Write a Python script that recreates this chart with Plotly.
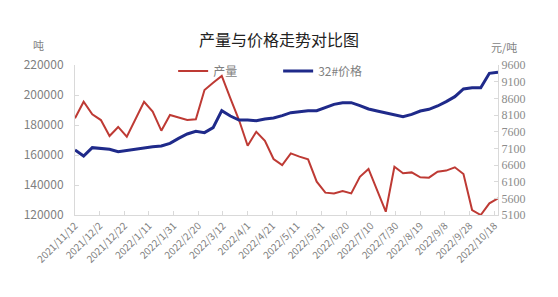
import pandas as pd
import plotly.graph_objects as go

dates = pd.date_range("2021-11-12", periods=50, freq="7D")

production = [184500, 195500, 187100, 183300, 172700, 178700, 172200, 183800, 195500, 188900,
              176200, 186700, 185100, 183300, 183800, 203300, 208200, 212700, 197800, 183300,
              166200, 175500, 169500, 157300, 153300, 161100, 158900, 157100, 142200, 134900,
              134400, 136000, 134400, 145500, 150700, 136700, 122200, 152200, 147800, 148400,
              145100, 144900, 148900, 149600, 151800, 147300, 123300, 120000, 127800, 131100]

price = [7050, 6870, 7120, 7100, 7070, 7000, 7040, 7070, 7110, 7150,
         7170, 7250, 7400, 7530, 7610, 7570, 7720, 8230, 8070, 7950,
         7950, 7930, 7980, 8010, 8080, 8170, 8200, 8230, 8230, 8320,
         8420, 8470, 8470, 8380, 8280, 8220, 8160, 8100, 8050, 8120,
         8220, 8270, 8370, 8500, 8650, 8880, 8920, 8920, 9350, 9380]

tick_dates = ["2021-11-12", "2021-12-02", "2021-12-22", "2022-01-11", "2022-01-31",
              "2022-02-20", "2022-03-12", "2022-04-01", "2022-04-21", "2022-05-11",
              "2022-05-31", "2022-06-20", "2022-07-10", "2022-07-30", "2022-08-19",
              "2022-09-08", "2022-09-28", "2022-10-18"]
tick_labels = ["2021/11/12", "2021/12/2", "2021/12/22", "2022/1/11", "2022/1/31",
               "2022/2/20", "2022/3/12", "2022/4/1", "2022/4/21", "2022/5/11",
               "2022/5/31", "2022/6/20", "2022/7/10", "2022/7/30", "2022/8/19",
               "2022/9/8", "2022/9/28", "2022/10/18"]

RED = "#BE3A34"
BLUE = "#1F2A8A"
GRAY = "#7F7F7F"
AXIS = "#D9D9D9"
CJK = "Noto Sans CJK SC"

fig = go.Figure()
fig.add_trace(go.Scatter(x=dates, y=production, name="产量", mode="lines",
                         line=dict(color=RED, width=2), yaxis="y"))
fig.add_trace(go.Scatter(x=dates, y=price, name="32#价格", mode="lines",
                         line=dict(color=BLUE, width=3), yaxis="y2"))

fig.update_layout(
    width=558, height=297,
    margin=dict(l=75, r=60, t=65, b=82),
    paper_bgcolor="white", plot_bgcolor="white",
    font=dict(family=CJK, color=GRAY, size=12),
    title=dict(text="产量与价格走势对比图", x=0.5, xanchor="center",
               y=1 - 40 / 297, yanchor="middle",
               font=dict(family=CJK, size=16, color="#222222")),
    showlegend=True,
    legend=dict(orientation="h", x=0.232, y=0.96, xanchor="left", yanchor="middle",
                font=dict(family=CJK, size=12, color=GRAY),
                entrywidth=60, bgcolor="rgba(0,0,0,0)", itemwidth=30),
    xaxis=dict(type="date",
               range=[dates[0], dates[-1]],
               tickvals=tick_dates, ticktext=tick_labels,
               tickangle=-45, tickfont=dict(family=CJK, size=10, color=GRAY),
               showgrid=False, zeroline=False,
               showline=True, linecolor=AXIS, linewidth=1,
               ticks="inside", ticklen=4, tickcolor=AXIS),
    yaxis=dict(range=[120000, 220000], dtick=20000, tick0=120000, tickformat="d",
               tickfont=dict(family=CJK, size=12, color=GRAY),
               showgrid=False, zeroline=False,
               showline=True, linecolor=AXIS, linewidth=1,
               ticks="inside", ticklen=4, tickcolor=AXIS,
               ticklabelstandoff=8),
    yaxis2=dict(range=[5100, 9600], dtick=500, tick0=5100, tickformat="d",
                overlaying="y", side="right",
                tickfont=dict(family="Liberation Serif", size=12, color="#8C8C8C"),
                showgrid=False, zeroline=False,
                showline=True, linecolor=AXIS, linewidth=1,
                ticks="inside", ticklen=4, tickcolor=AXIS),
    annotations=[
        dict(text="吨", xref="paper", yref="paper", x=(38 - 75) / 423, y=1 + 20 / 150,
             xanchor="center", yanchor="middle", showarrow=False,
             font=dict(family=CJK, size=11, color=GRAY)),
        dict(text="元/吨", xref="paper", yref="paper", x=(504 - 75) / 423, y=1 + 8 / 150,
             xanchor="center", yanchor="bottom", showarrow=False,
             font=dict(family=CJK, size=11, color=GRAY)),
    ],
)

fig.write_html("out.html")
